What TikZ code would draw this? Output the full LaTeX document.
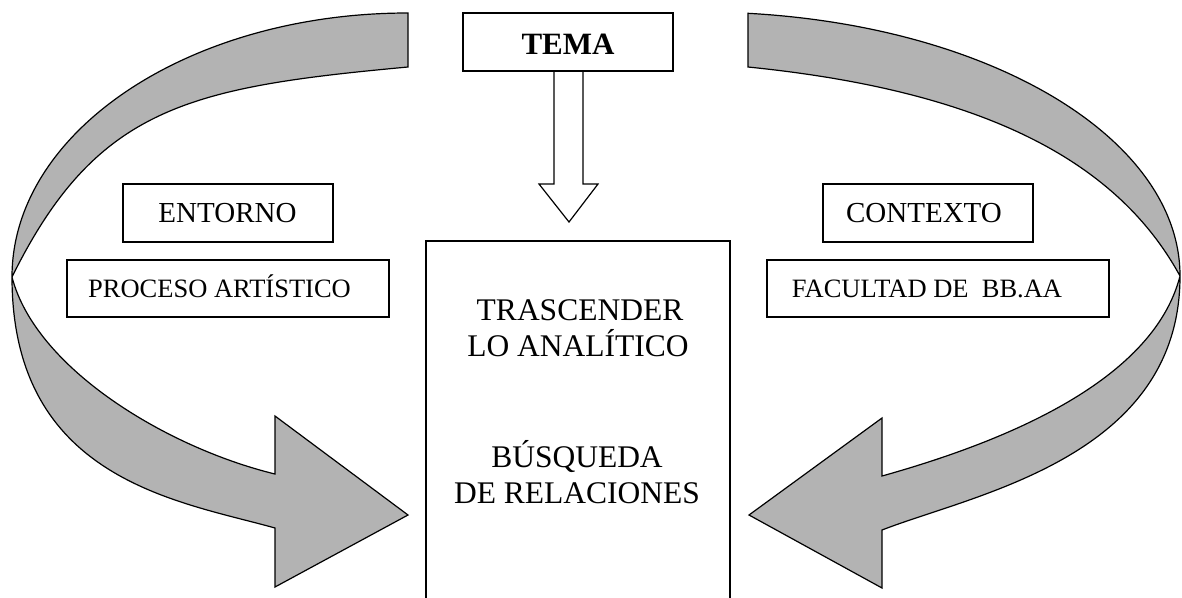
\documentclass[tikz,border=0pt]{standalone}
\usepackage{fontspec}
\setmainfont{Liberation Serif}
\definecolor{arrowgray}{RGB}{179,179,179}
\begin{document}
\begin{tikzpicture}[x=1pt,y=-1pt,
  bandarrow/.style={draw=black, fill=arrowgray, line width=1.2pt, line join=miter},
  blockarrow/.style={draw=black, fill=white, line width=1.2pt, line join=miter},
  frame/.style={draw=black, fill=white, line width=1.6pt, inner sep=0pt, outer sep=0pt},
  lbl/.style={inner sep=0pt, anchor=base, font=\fontsize{29}{34}\selectfont},
  lbls/.style={inner sep=0pt, anchor=base, font=\fontsize{26.5}{32}\selectfont},
  bigl/.style={inner sep=0pt, anchor=base, font=\fontsize{31.5}{36}\selectfont},
  temal/.style={inner sep=0pt, anchor=base, font=\fontsize{31}{36}\selectfont\bfseries}]
\useasboundingbox (0,0) rectangle (1182,597);
\clip (0,0) rectangle (1182,597);

% left curved arrow
\draw[bandarrow] (408,13)
  .. controls (189.3,13) and (12,131.2) .. (12,277)
  .. controls (12,480) and (178.7,501) .. (275,528)
  -- (275,587) -- (408,515) -- (275,416) -- (275,474)
  .. controls (168,448) and (35.75,369) .. (12,277)
  .. controls (96.2,106.6) and (189,87.2) .. (408,67)
  -- cycle;

% right curved arrow
\draw[bandarrow] (748,13.3)
  .. controls (993.3,26.8) and (1180,139.4) .. (1180,276)
  .. controls (1180,457) and (975.2,493.8) .. (882,530)
  -- (882,588) -- (749,515) -- (882,418) -- (882,476)
  .. controls (997.6,443.6) and (1152.5,383.7) .. (1180,276)
  .. controls (1115.2,157.2) and (976.9,90.1) .. (748,67)
  -- cycle;

% TEMA box and down arrow
\draw[blockarrow] (554,68) -- (554,184) -- (539,184) -- (569,222) -- (598,184) -- (583,184) -- (583,68) -- cycle;
\node[frame, minimum width=210pt, minimum height=58pt] (tema) at (568,42) {};
\node[temal] (tematxt) at (568,54) {TEMA};

% side boxes
\node[frame, minimum width=210pt, minimum height=58pt] (entorno) at (228,213) {};
\node[lbl] (entornotxt) at (227.5,222.7) {ENTORNO};
\node[frame, minimum width=322pt, minimum height=57pt] (proceso) at (228,288.5) {};
\node[lbls] (procesotxt) at (219.5,297.5) {PROCESO ARTÍSTICO};

\node[frame, minimum width=210pt, minimum height=58pt] (contexto) at (928,213) {};
\node[lbl] (contextotxt) at (924,222.7) {CONTEXTO};
\node[frame, minimum width=342pt, minimum height=57pt] (facultad) at (938,288.5) {};
\node[lbls] (facultadtxt) at (927,297.5) {FACULTAD DE\ \ BB.AA};

% central box
\node[frame, minimum width=304pt, minimum height=400pt] (centro) at (578,441) {};
\node[bigl] (t1) at (580,320) {TRASCENDER};
\node[bigl] (t2) at (578,356) {LO ANALÍTICO};
\node[bigl] (t3) at (577,467) {BÚSQUEDA};
\node[bigl] (t4) at (577,503) {DE RELACIONES};
\end{tikzpicture}
\end{document}
